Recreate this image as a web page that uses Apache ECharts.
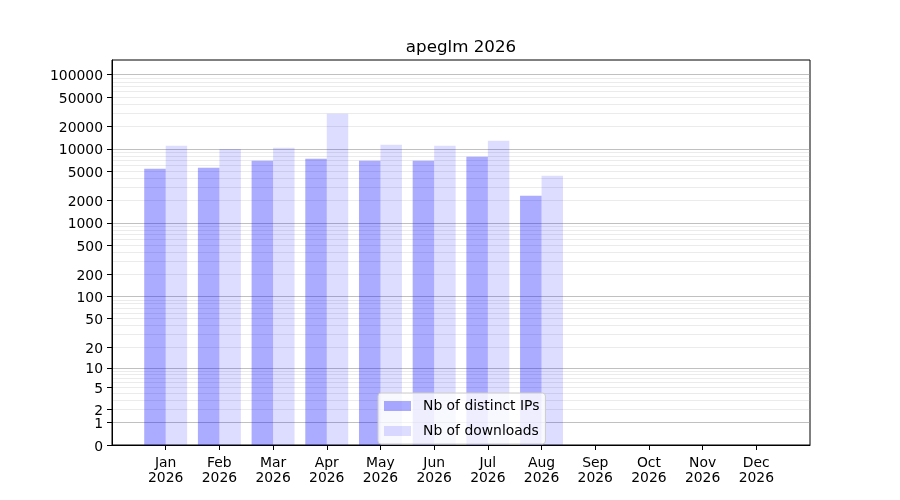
<!DOCTYPE html>
<html>
<head>
<meta charset="utf-8">
<script src="https://cdn.jsdelivr.net/npm/echarts@6/dist/echarts.min.js"></script>
<style>html,body{margin:0;padding:0;background:#fff}#c{width:900px;height:500px}</style>
</head>
<body>
<div id="c"></div>
<script>
const months = ['Jan', 'Feb', 'Mar', 'Apr', 'May', 'Jun', 'Jul', 'Aug', 'Sep', 'Oct', 'Nov', 'Dec'];
const year = '2026';
const distinctIPs = [5370, 5540, 6890, 7330, 6890, 6890, 7800, 2320];
const downloads = [10990, 9910, 10320, 29700, 11320, 10990, 12830, 4320];
const yTickLabels = [0, 1, 2, 5, 10, 20, 50, 100, 200, 500, 1000, 2000, 5000, 10000, 20000, 50000, 100000];
const majorGrid = [1, 10, 100, 1000, 10000, 100000];
const minorGrid = [2, 3, 4, 5, 6, 7, 8, 9, 20, 30, 40, 50, 60, 70, 80, 90,
  200, 300, 400, 500, 600, 700, 800, 900, 2000, 3000, 4000, 5000, 6000, 7000, 8000, 9000,
  20000, 30000, 40000, 50000, 60000, 70000, 80000, 90000];
const yTopValue = 158000;

const tf = v => Math.log10(1 + v);
const yMax = tf(yTopValue);
const cats = [''].concat(months, ['']);
const pad = arr => [null].concat(arr.map(tf));

const font = 'DejaVu Sans';
const baseY = {
  type: 'value', min: 0, max: yMax, position: 'left',
  axisLine: { show: false }, axisLabel: { show: false }, axisTick: { show: false },
  splitLine: { show: false }
};

const chart = echarts.init(document.getElementById('c'));
chart.setOption({
  animation: false,
  backgroundColor: '#fff',
  textStyle: { fontFamily: font },
  title: {
    text: 'apeglm ' + year, left: 456, textAlign: 'center', top: 34,
    textStyle: { fontFamily: font, fontSize: 16.7, fontWeight: 'normal', color: '#000' }
  },
  grid: { left: 112, right: 90, top: 60, bottom: 55, show: true, borderColor: '#000', borderWidth: 1, backgroundColor: 'transparent' },
  legend: {
    orient: 'vertical', left: 378, top: 393,
    padding: [6, 6, 6, 6], itemGap: 11, itemWidth: 27, itemHeight: 10,
    backgroundColor: 'rgba(255,255,255,0.8)', borderColor: '#cccccc', borderWidth: 1, borderRadius: 3,
    icon: 'rect',
    textStyle: { fontFamily: font, fontSize: 13.9, color: '#000', padding: [0, 0, 0, 7] },
    data: ['Nb of distinct IPs', 'Nb of downloads']
  },
  xAxis: {
    type: 'category', data: cats, boundaryGap: false,
    axisLine: { show: true, lineStyle: { color: '#000' } },
    axisTick: { show: true, length: 5, lineStyle: { color: '#000' }, interval: (i, v) => v !== '' },
    axisLabel: {
      interval: 0, margin: 11, color: '#000', fontFamily: font, fontSize: 13.9, lineHeight: 15,
      formatter: v => v === '' ? '' : v + '\n' + year
    },
    splitLine: { show: false }
  },
  yAxis: [
    Object.assign({}, baseY, {
      axisLine: { show: true, lineStyle: { color: '#000' } },
      axisTick: { show: true, length: 5, lineStyle: { color: '#000' }, customValues: yTickLabels.map(tf) },
      axisLabel: {
        show: true, margin: 9, color: '#000', fontFamily: font, fontSize: 13.9,
        customValues: yTickLabels.map(tf),
        formatter: v => '{n|' + String(Math.round(Math.pow(10, v) - 1)) + '}',
        rich: { n: { fontFamily: font, fontSize: 13.9, color: '#000', padding: [4, 0, 0, 0] } }
      },
      splitLine: { show: false }
    }),
    Object.assign({}, baseY, {
      axisTick: { show: false, customValues: minorGrid.map(tf) },
      splitLine: { show: true, lineStyle: { color: 'rgba(176,176,176,0.25)', width: 1 } }
    }),
    Object.assign({}, baseY, {
      axisTick: { show: false, customValues: majorGrid.map(tf) },
      splitLine: { show: true, lineStyle: { color: 'rgba(150,150,150,0.6)', width: 1 } }
    })
  ],
  series: [
    {
      name: 'Nb of distinct IPs', type: 'bar', yAxisIndex: 0,
      data: pad(distinctIPs), barWidth: '40%', barGap: '0%',
      itemStyle: { color: 'rgba(0,0,255,0.33)' }
    },
    {
      name: 'Nb of downloads', type: 'bar', yAxisIndex: 0,
      data: pad(downloads), barWidth: '40%', barGap: '0%',
      itemStyle: { color: 'rgba(0,0,255,0.134)' }
    }
  ]
});
</script>
</body>
</html>
